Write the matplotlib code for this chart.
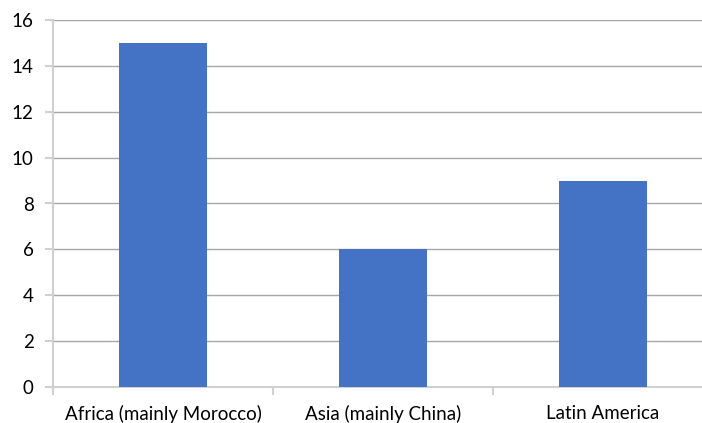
import numpy as np
import matplotlib.pyplot as plt

regions = ['Africa (mainly Morocco)', 'Asia (mainly China)', 'Latin America']
counts = [15, 6, 9]
yticks = [0, 2, 4, 6, 8, 10, 12, 14, 16]

plt.rcParams['font.family'] = ['Lato', 'DejaVu Sans']

fig = plt.figure(figsize=(7.02, 4.23), dpi=100)
# axes runs past the right edge, as in the reference
ax = fig.add_axes([53 / 702, 36 / 423, 660 / 702, 367 / 423])

x = np.arange(len(regions))
ax.bar(x, counts, width=0.4, color='#4472C4', zorder=3)

ax.set_xlim(-0.5, len(regions) - 0.5)
ax.set_ylim(0, 16)
ax.set_yticks(yticks)
ax.set_xticks(x)
ax.set_xticklabels(regions)
ax.set_xticks(np.arange(-0.5, len(regions)), minor=True)

ax.grid(axis='y', color='#a6a6a6', linewidth=1, zorder=0)
for s in ['top', 'right']:
    ax.spines[s].set_visible(False)
ax.spines['left'].set_color('#d0d0d0')
ax.spines['left'].set_linewidth(1.5)
ax.spines['bottom'].set_color('#d0d0d0')
ax.spines['bottom'].set_linewidth(1.5)

ax.tick_params(axis='y', length=6, color='#d0d0d0', width=1.5, labelsize=13.5, pad=8, labelcolor='#000000')
ax.tick_params(axis='x', which='major', length=0, labelsize=13.5, pad=13)
ax.tick_params(axis='x', which='minor', length=6, color='#d0d0d0', width=1.5)

fig.savefig('out.png', dpi=100)
